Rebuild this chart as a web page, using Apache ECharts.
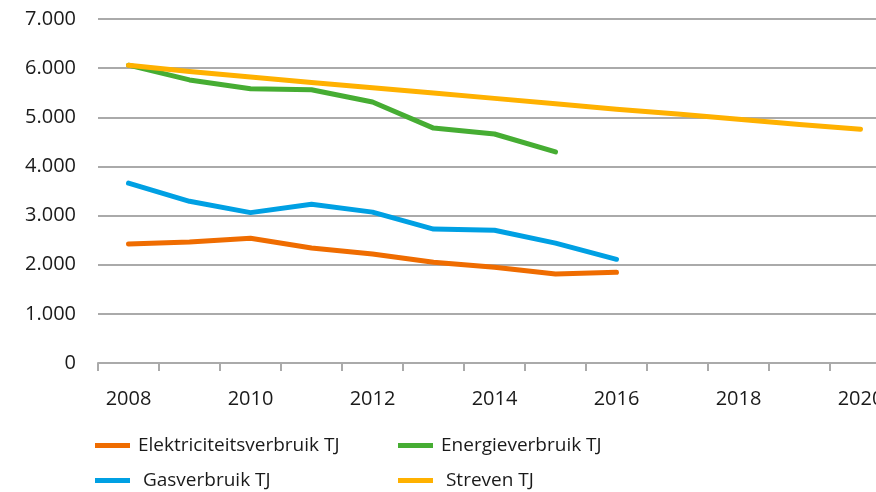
<!DOCTYPE html>
<html>
<head>
<meta charset="utf-8">
<script src="https://cdn.jsdelivr.net/npm/echarts@6/dist/echarts.min.js"></script>
<style>
    html, body { margin: 0; padding: 0; background: #fff; overflow: hidden; }
    #chart { width: 891px; height: 492px; }
</style>
</head>
<body>
<div id="chart"></div>
<script>
// jaren en verbruik (TJ)
var years = ['2008', '2009', '2010', '2011', '2012', '2013', '2014', '2015', '2016', '2017', '2018', '2019', '2020'];
var elektriciteit = [2420, 2460, 2540, 2340, 2220, 2050, 1950, 1810, 1845];
var energie = [6060, 5760, 5580, 5560, 5310, 4780, 4660, 4295];
var gas = [3660, 3290, 3060, 3230, 3070, 2725, 2700, 2440, 2110];
var streven = [6060, 5930, 5820, 5710, 5600, 5495, 5385, 5275, 5165, 5065, 4960, 4855, 4755];
var yTicks = [0, 1000, 2000, 3000, 4000, 5000, 6000, 7000];

var font = 'Open Sans';
var chart = echarts.init(document.getElementById('chart'));

function lijn (name, data, color) {
    return {
        name: name,
        type: 'line',
        data: data,
        symbol: 'none',
        smooth: false,
        lineStyle: { width: 5, color: color, cap: 'round', join: 'round' },
        itemStyle: { color: color }
    };
}

// één legenda per item, zodat de twee kolommen goed staan
function legenda (name, left, top) {
    return {
        data: [name],
        left: left,
        top: top,
        padding: 0,
        icon: 'rect',
        itemWidth: 35,
        itemHeight: 5,
        textStyle: { fontFamily: font, fontSize: 19, color: '#1a1a1a', padding: [0, 0, 0, 3] }
    };
}

chart.setOption({
    animation: false,
    grid: {
        left: 98,
        right: 0,
        top: 19,
        bottom: 129,
        containLabel: false
    },
    legend: [
        legenda('Elektriciteitsverbruik TJ', 95, 436),
        legenda(' Gasverbruik TJ', 95, 471),
        legenda('Energieverbruik TJ', 398, 436),
        legenda(' Streven TJ', 398, 471)
    ],
    xAxis: {
        type: 'category',
        data: years,
        boundaryGap: true,
        axisLine: { lineStyle: { color: '#aaa', width: 2 } },
        axisTick: { show: true, interval: 0, length: 8, lineStyle: { color: '#aaa', width: 2 } },
        axisLabel: {
            interval: 1,
            margin: 26,
            fontFamily: font,
            fontSize: 20,
            color: '#1a1a1a'
        },
        splitLine: { show: false }
    },
    yAxis: {
        type: 'value',
        min: yTicks[0],
        max: yTicks[yTicks.length - 1],
        interval: 1000,
        axisLine: { show: false },
        axisTick: { show: false },
        axisLabel: {
            margin: 22,
            fontFamily: font,
            fontSize: 20,
            color: '#1a1a1a',
            formatter: function (v) {
                return String(v).replace(/\B(?=(\d{3})+(?!\d))/g, '.');
            }
        },
        splitLine: { lineStyle: { color: '#aaa', width: 2 } }
    },
    series: [
        lijn('Elektriciteitsverbruik TJ', elektriciteit, '#ef6c00'),
        lijn('Energieverbruik TJ', energie, '#46ad33'),
        lijn(' Gasverbruik TJ', gas, '#00a0e3'),
        lijn(' Streven TJ', streven, '#ffb100')
    ]
});
</script>
</body>
</html>
